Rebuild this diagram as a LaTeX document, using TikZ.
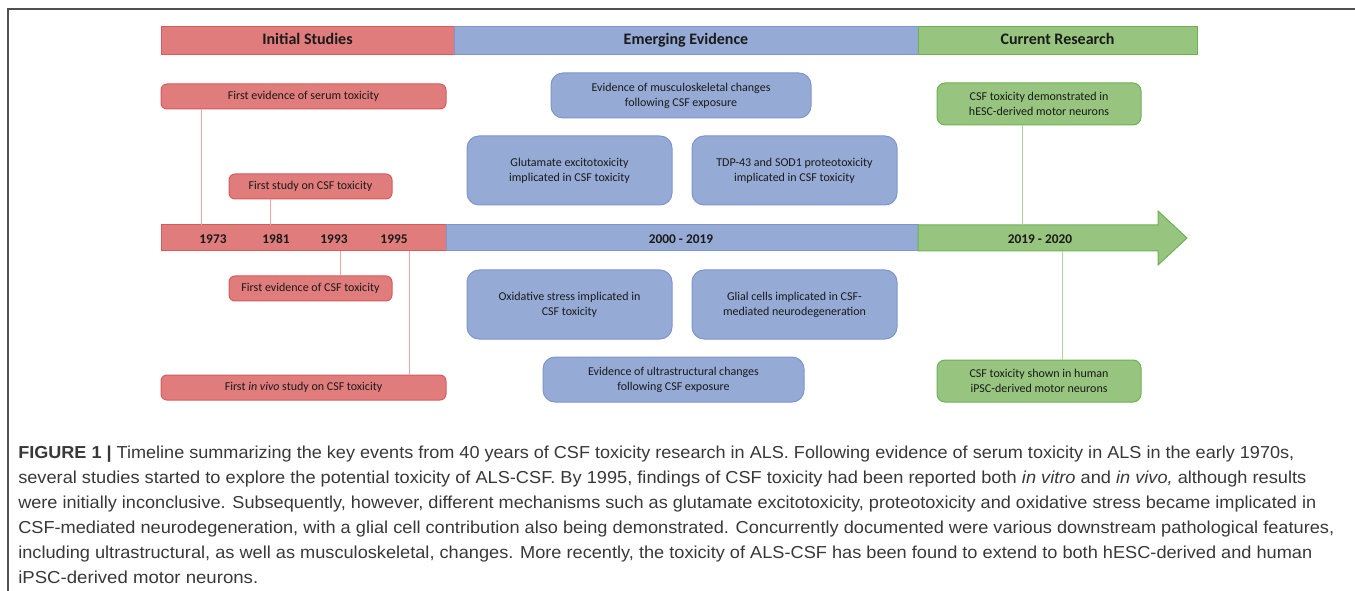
\documentclass[tikz,border=0pt]{standalone}
\usepackage{fontspec}
\setmainfont{Carlito}
\newfontfamily\capfont{Liberation Sans}
\usepackage{graphicx}
\definecolor{rfill}{HTML}{E07C7C}
\definecolor{rdraw}{HTML}{D65B5C}
\definecolor{rline}{HTML}{F0A3A3}
\definecolor{bfill}{HTML}{95AAD5}
\definecolor{bdraw}{HTML}{7D96CC}
\definecolor{gfill}{HTML}{97C47F}
\definecolor{gdraw}{HTML}{6EB153}
\definecolor{gline}{HTML}{A9D59A}
\definecolor{framec}{HTML}{505050}
\definecolor{captext}{HTML}{383838}
\definecolor{boxtext}{HTML}{1A1A1A}
\tikzset{
  bx/.style={rectangle, align=center, inner sep=2pt, line width=0.75pt, text=boxtext,
    font=\fontsize{9}{11.25}\selectfont},
  rbox/.style={bx, fill=rfill, draw=rdraw, rounded corners=4.5pt},
  bbox/.style={bx, fill=bfill, draw=bdraw, rounded corners=9pt},
  gbox/.style={bx, fill=gfill, draw=gdraw, rounded corners=6pt},
  hdr/.style={rectangle, inner sep=0pt, line width=0.75pt, minimum height=21pt, text=boxtext,
    text height=8.5pt, text depth=2.5pt,
    font=\fontsize{12}{14}\selectfont\bfseries},
  bar/.style={rectangle, inner sep=0pt, line width=0.75pt, minimum height=19.5pt},
  yr/.style={inner sep=0pt, text=boxtext, font=\fontsize{10}{12}\selectfont\bfseries},
  rcon/.style={draw=rline, line width=0.75pt},
  gcon/.style={draw=gline, line width=0.75pt},
  capl/.style={anchor=base west, inner sep=0pt, text=captext},
}
\newcommand\capsz{\capfont\fontsize{13}{18}\selectfont}
\begin{document}
\begin{tikzpicture}[x=0.75pt,y=-0.75pt]
\useasboundingbox (0,0) rectangle (1355,591);
\draw[framec, line width=1.1pt] (8,591) -- (8,9) -- (1355,9);

% header bars
\node[hdr, fill=rfill, draw=rdraw, minimum width=219.75pt] (hA) at (307.5,40.5) {Initial Studies};
\node[hdr, fill=bfill, draw=bdraw, minimum width=348pt] (hB) at (686,40.5) {Emerging Evidence};
\node[hdr, fill=gfill, draw=gdraw, minimum width=209.25pt] (hC) at (1057.5,40.5) {Current Research};

% timeline bar
\node[bar, fill=rfill, draw=rdraw, minimum width=213.75pt] (tR) at (303.5,238) {};
\node[bar, fill=bfill, draw=bdraw, minimum width=354pt] (tB) at (682,238) {};
\filldraw[fill=gfill, draw=gdraw, line width=0.75pt] (918,225) -- (1158,225) -- (1158,211) -- (1187,238) -- (1158,265) -- (1158,251) -- (918,251) -- cycle;
\node[yr] (y1) at (213,239) {1973};
\node[yr] (y2) at (276,239) {1981};
\node[yr] (y3) at (334,239) {1993};
\node[yr] (y4) at (394,239) {1995};
\node[yr] (y5) at (681,239) {2000 - 2019};
\node[yr] (y6) at (1040,239) {2019 - 2020};

% red boxes
\node[rbox, minimum width=213.75pt, minimum height=18.75pt] (serum) at (303.5,96.5) {First evidence of serum toxicity};
\node[rbox, minimum width=122.25pt, minimum height=18.75pt] (study) at (310.5,186.5) {First study on CSF toxicity};
\node[rbox, minimum width=122.25pt, minimum height=18.75pt] (evcsf) at (310.5,288.5) {First evidence of CSF toxicity};
\node[rbox, minimum width=213.75pt, minimum height=18.75pt] (invivo) at (303.5,387.5) {First \textit{in vivo} study on CSF toxicity};

% blue boxes
\node[bbox, minimum width=195pt, minimum height=33.75pt] (musc) at (681,95.5) {Evidence of musculoskeletal changes\\following CSF exposure};
\node[bbox, minimum width=153.75pt, minimum height=51.75pt] (glut) at (569.5,170.5) {Glutamate excitotoxicity\\implicated in CSF toxicity};
\node[bbox, minimum width=153.75pt, minimum height=51.75pt] (tdp) at (794.5,170.5) {TDP-43 and SOD1 proteotoxicity\\implicated in CSF toxicity};
\node[bbox, minimum width=153.75pt, minimum height=51.75pt] (oxid) at (569.5,304.5) {Oxidative stress implicated in\\CSF toxicity};
\node[bbox, minimum width=153.75pt, minimum height=51.75pt] (glial) at (794.5,304.5) {Glial cells implicated in CSF-\\mediated neurodegeneration};
\node[bbox, minimum width=195.75pt, minimum height=33.75pt] (ultra) at (673.5,379.5) {Evidence of ultrastructural changes\\following CSF exposure};

% green boxes
\node[gbox, minimum width=153pt, minimum height=31.5pt] (hesc) at (1039,104) {CSF toxicity demonstrated in\\hESC-derived motor neurons};
\node[gbox, minimum width=153pt, minimum height=31.5pt] (ipsc) at (1039,381) {CSF toxicity shown in human\\iPSC-derived motor neurons};

% connectors
\coordinate (c1) at (201,225);
\coordinate (c2) at (270,225);
\coordinate (c3) at (340,251);
\coordinate (c4) at (409,251);
\coordinate (c5) at (1022,225);
\coordinate (c6) at (1062,251);
\draw[rcon] (serum.south -| c1) -- (c1);
\draw[rcon] (study.south -| c2) -- (c2);
\draw[rcon] (c3) -- (evcsf.north -| c3);
\draw[rcon] (c4) -- (invivo.north -| c4);
\draw[gcon] (hesc.south -| c5) -- (c5);
\draw[gcon] (c6) -- (ipsc.north -| c6);

% caption
\node[capl] (cap1) at (18,458) {\resizebox{957pt}{\height}{\capsz\textbf{FIGURE 1} \textbf{|} Timeline summarizing the key events from 40 years of CSF toxicity research in ALS. Following evidence of serum toxicity in ALS in the early 1970s,}};
\node[capl] (cap2) at (18,483) {\resizebox{966pt}{\height}{\capsz several studies started to explore the potential toxicity of ALS-CSF. By 1995, findings of CSF toxicity had been reported both \textit{in vitro} and \textit{in vivo,} although results}};
\node[capl] (cap3) at (18,508) {\resizebox{973.5pt}{\height}{\capsz were initially inconclusive. Subsequently, however, different mechanisms such as glutamate excitotoxicity, proteotoxicity and oxidative stress became implicated in}};
\node[capl] (cap4) at (18,533) {\resizebox{987pt}{\height}{\capsz CSF-mediated neurodegeneration, with a glial cell contribution also being demonstrated. Concurrently documented were various downstream pathological features,}};
\node[capl] (cap5) at (18,558) {\resizebox{970.5pt}{\height}{\capsz including ultrastructural, as well as musculoskeletal, changes. More recently, the toxicity of ALS-CSF has been found to extend to both hESC-derived and human}};
\node[capl] (cap6) at (18,583) {\resizebox{180pt}{\height}{\capsz iPSC-derived motor neurons.}};
\end{tikzpicture}
\end{document}
